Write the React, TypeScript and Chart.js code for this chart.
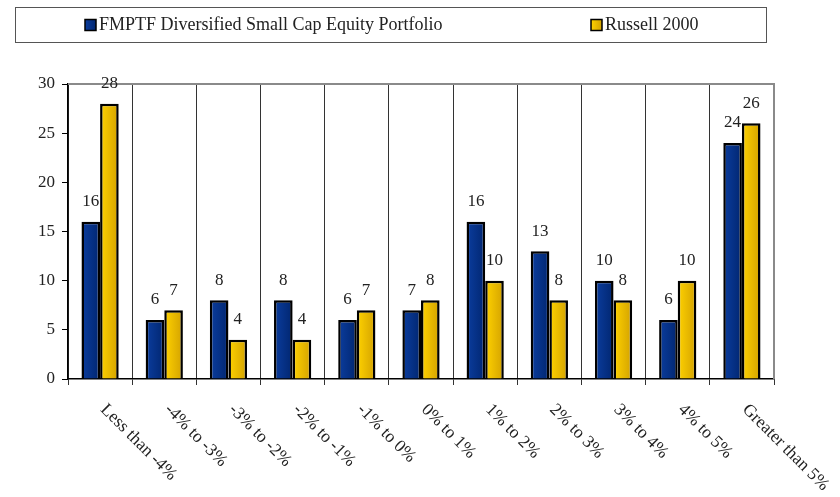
import React, { useEffect, useRef } from "react";
import { Chart, registerables } from "chart.js";

Chart.register(...registerables);

const categories = [
  "Less than -4%",
  "-4% to -3%",
  "-3% to -2%",
  "-2% to -1%",
  "-1% to 0%",
  "0% to 1%",
  "1% to 2%",
  "2% to 3%",
  "3% to 4%",
  "4% to 5%",
  "Greater than 5%",
];
const fundValues = [16, 6, 8, 8, 6, 7, 16, 13, 10, 6, 24];
const russellValues = [28, 7, 4, 4, 7, 8, 10, 8, 8, 10, 26];
const seriesNames = ["FMPTF Diversified Small Cap Equity Portfolio", "Russell 2000"];
const yTicks = [0, 5, 10, 15, 20, 25, 30];

const FONT = '"Liberation Serif", "Times New Roman", serif';
const CAT_PCT = 0.58;

function barGradient(ctx: any, which: number) {
  const chart = ctx.chart;
  const xs = chart.scales?.x;
  const c = chart.ctx;
  const light = which === 0 ? "#0b3d9e" : "#ffd200";
  const dark = which === 0 ? "#012670" : "#d3a200";
  if (!xs || ctx.dataIndex === undefined) return light;
  const cx = xs.getPixelForValue(ctx.dataIndex);
  const catW = (xs.right - xs.left) / categories.length;
  const w = (catW * CAT_PCT) / 2;
  const x0 = which === 0 ? cx - w : cx;
  if (!isFinite(x0) || !isFinite(w) || w <= 0) return light;
  const g = c.createLinearGradient(x0, 0, x0 + w, 0);
  g.addColorStop(0, light);
  g.addColorStop(1, dark);
  return g;
}

const customPlugin = {
  id: "custom",
  afterDraw(chart: any) {
    const c = chart.ctx;
    const area = chart.chartArea;
    const xs = chart.scales.x;
    c.save();
    // gray top/right border
    c.strokeStyle = "#8a8a8a";
    c.lineWidth = 2;
    c.beginPath();
    c.moveTo(area.left, area.top);
    c.lineTo(area.right, area.top);
    c.lineTo(area.right, area.bottom);
    c.stroke();

    // data labels
    c.fillStyle = "#222";
    c.font = `17px ${FONT}`;
    c.textAlign = "center";
    c.textBaseline = "middle";
    chart.data.datasets.forEach((ds: any, di: number) => {
      const meta = chart.getDatasetMeta(di);
      meta.data.forEach((el: any, i: number) => {
        c.fillText(String(ds.data[i]), el.x, el.y - 20);
      });
    });

    // rotated x labels
    c.font = `17.5px ${FONT}`;
    c.textAlign = "left";
    c.textBaseline = "middle";
    categories.forEach((lab, i) => {
      const cx = xs.getPixelForValue(i);
      c.save();
      c.translate(cx + 3, area.bottom + 28);
      c.rotate(Math.PI / 4);
      c.fillText(lab, 0, 0);
      c.restore();
    });

    // legend
    c.strokeStyle = "#555";
    c.lineWidth = 1;
    c.strokeRect(15.5, 7.5, 751, 35);
    const items = [
      { x: 85, color: ["#0b3d9e", "#012670"], text: seriesNames[0] },
      { x: 591, color: ["#ffd200", "#d3a200"], text: seriesNames[1] },
    ];
    items.forEach((it) => {
      const g = c.createLinearGradient(it.x, 0, it.x + 11, 0);
      g.addColorStop(0, it.color[0]);
      g.addColorStop(1, it.color[1]);
      c.fillStyle = g;
      c.fillRect(it.x, 19.5, 11, 11);
      c.strokeStyle = "#000";
      c.lineWidth = 1.5;
      c.strokeRect(it.x, 19.5, 11, 11);
      c.fillStyle = "#222";
      c.font = `18px ${FONT}`;
      c.textAlign = "left";
      c.textBaseline = "middle";
      c.fillText(it.text, it.x + 14, 25.5);
    });
    c.restore();
  },
};

export default function App() {
  const ref = useRef<HTMLCanvasElement | null>(null);
  useEffect(() => {
    document.body.style.margin = "0";
    const canvas = ref.current!;
    const chart = new Chart(canvas, {
      type: "bar",
      data: {
        labels: categories,
        datasets: [
          {
            label: seriesNames[0],
            data: fundValues,
            backgroundColor: (ctx: any) => barGradient(ctx, 0),
            borderColor: "#000",
            borderWidth: 2.5,
          },
          {
            label: seriesNames[1],
            data: russellValues,
            backgroundColor: (ctx: any) => barGradient(ctx, 1),
            borderColor: "#000",
            borderWidth: 2.5,
          },
        ],
      },
      options: {
        responsive: false,
        animation: false,
        layout: { padding: { left: 0, top: 84, right: 66, bottom: 0 } },
        datasets: { bar: { categoryPercentage: CAT_PCT, barPercentage: 1 } },
        plugins: { legend: { display: false }, tooltip: { enabled: false } },
        scales: {
          x: {
            offset: true,
            grid: {
              offset: true,
              drawOnChartArea: true,
              drawTicks: true,
              tickLength: 6,
              color: "#333",
              lineWidth: 1,
            },
            border: { display: true, color: "#000", width: 1.5 },
            ticks: { display: false },
            afterFit: (s: any) => {
              s.height = 118;
            },
          },
          y: {
            min: 0,
            max: 30,
            afterBuildTicks: (s: any) => {
              s.ticks = yTicks.map((v) => ({ value: v }));
            },
            grid: { drawOnChartArea: false, drawTicks: true, tickLength: 6, color: "#000" },
            border: { display: true, color: "#000", width: 1.5 },
            ticks: {
              padding: 7,
              color: "#222",
              font: { family: FONT, size: 17 },
            },
            afterFit: (s: any) => {
              s.width = 68;
            },
          },
        },
      },
      plugins: [customPlugin],
    });
    return () => chart.destroy();
  }, []);
  return (
    <div style={{ width: 840, height: 497, background: "#fff" }}>
      <canvas ref={ref} width={840} height={497} style={{ width: 840, height: 497, display: "block" }} />
    </div>
  );
}
